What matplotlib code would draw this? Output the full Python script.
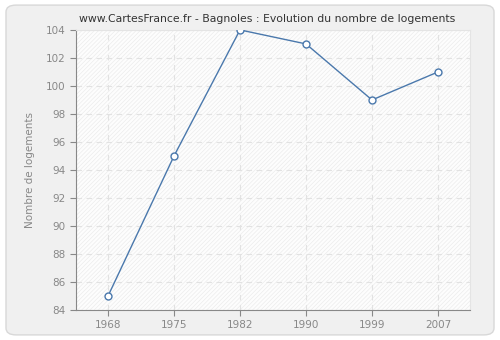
import matplotlib
matplotlib.use("Agg")
import matplotlib.pyplot as plt
from matplotlib.patches import FancyBboxPatch, Rectangle

# data
years = ["1968", "1975", "1982", "1990", "1999", "2007"]
logements = [85, 95, 104, 103, 99, 101]
y_ticks = [84, 86, 88, 90, 92, 94, 96, 98, 100, 102, 104]

plt.rcParams['font.family'] = ['DejaVu Sans']
plt.rcParams['hatch.linewidth'] = 0.5

fig = plt.figure(figsize=(5, 3.4), dpi=100)
fig.patch.set_facecolor('white')

# rounded grey frame behind everything
frame = FancyBboxPatch((0.012, 0.015), 0.976, 0.97,
                       boxstyle="round,pad=0,rounding_size=0.02",
                       transform=fig.transFigure, facecolor='#f0f0f0',
                       edgecolor='#d8d8d8', linewidth=1.0, zorder=-5)
fig.patches.append(frame)

ax = fig.add_axes([0.152, 0.088, 0.788, 0.824])
ax.set_facecolor('white')

x = list(range(len(years)))
ax.set_xlim(-0.485, len(years) - 1 + 0.485)
ax.set_ylim(84, 104)

# hatched plot background
ax.add_patch(Rectangle((0, 0), 1, 1, transform=ax.transAxes, facecolor='#fdfdfd',
                       edgecolor='#ececec', hatch='////////', linewidth=0, zorder=0))

ax.grid(True, color='#e2e2e2', linestyle=(0, (5, 4)), linewidth=0.8, zorder=1)
ax.set_axisbelow(True)

ax.plot(x, logements, color='#4a78ac', linewidth=1.0, marker='o', markersize=5,
        markerfacecolor='white', markeredgecolor='#4a78ac', markeredgewidth=1.0,
        zorder=3)

ax.set_xticks(x)
ax.set_xticklabels(years)
ax.set_yticks(y_ticks)
ax.tick_params(colors='#888888', labelcolor='#888888', labelsize=7.5,
               length=4, width=0.8)

for side in ['top', 'right']:
    ax.spines[side].set_color('#e4e4e4')
    ax.spines[side].set_linewidth(0.8)
for side in ['left', 'bottom']:
    ax.spines[side].set_color('#888888')
    ax.spines[side].set_linewidth(0.8)

ax.set_ylabel('Nombre de logements', color='#888888', fontsize=7.5, labelpad=8)
fig.text(0.534, 0.945, 'www.CartesFrance.fr - Bagnoles : Evolution du nombre de logements',
         ha='center', va='center', fontsize=7.8, color='#333333')

fig.savefig('out.png', dpi=100, facecolor=fig.get_facecolor())
